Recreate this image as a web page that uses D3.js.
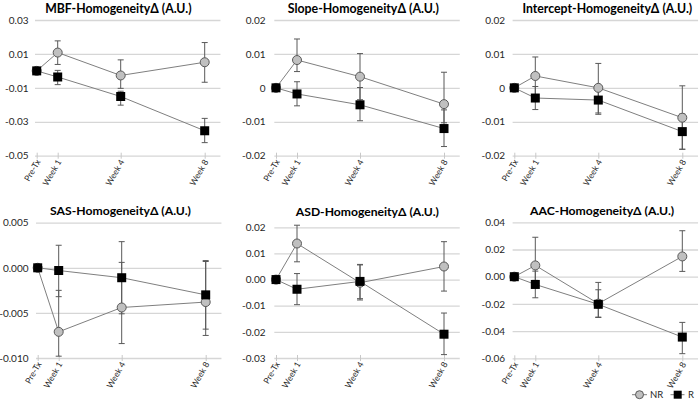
<!DOCTYPE html>
<html><head><meta charset="utf-8">
<script src="https://cdn.jsdelivr.net/npm/d3@7"></script>
<style>
html,body{margin:0;padding:0;background:#fff;}
svg{display:block;font-family:Lato,"Liberation Sans",sans-serif;}
</style></head>
<body><svg id="c" width="700" height="402"></svg>
<script>
// ---------- data ----------
const weeks = [0, 1, 4, 8];
const categories = ["Pre-Tx", "Week 1", "Week 4", "Week 8"];
const seriesNames = ["NR", "R"];

const titles = ["MBF-HomogeneityΔ (A.U.)", "Slope-HomogeneityΔ (A.U.)", "Intercept-HomogeneityΔ (A.U.)",
                "SAS-HomogeneityΔ (A.U.)", "ASD-HomogeneityΔ (A.U.)", "AAC-HomogeneityΔ (A.U.)"];

const mbfTicks = [0.03, 0.01, -0.01, -0.03, -0.05];
const mbfTickLabels = ["0.03", "0.01", "-0.01", "-0.03", "-0.05"];
const slopeTicks = [0.02, 0.01, 0, -0.01, -0.02];
const slopeTickLabels = ["0.02", "0.01", "0", "-0.01", "-0.02"];
const interceptTicks = [0.02, 0.01, 0, -0.01, -0.02];
const interceptTickLabels = ["0.02", "0.01", "0", "-0.01", "-0.02"];
const sasTicks = [0.005, 0, -0.005, -0.010];
const sasTickLabels = ["0.005", "0.000", "-0.005", "-0.010"];
const asdTicks = [0.02, 0.01, 0, -0.01, -0.02, -0.03];
const asdTickLabels = ["0.02", "0.01", "0.00", "-0.01", "-0.02", "-0.03"];
const aacTicks = [0.04, 0.02, 0, -0.02, -0.04, -0.06];
const aacTickLabels = ["0.04", "0.02", "0.00", "-0.02", "-0.04", "-0.06"];

// mean, upper error end, lower error end
const mbfNR   = [0, 0.0108, -0.0027, 0.0051];
const mbfNRHi = [0, 0.0177, 0.0065, 0.0167];
const mbfNRLo = [0, 0.0038, -0.0103, -0.0067];
const mbfR    = [0, -0.0036, -0.0151, -0.0353];
const mbfRHi  = [0, 0.0003, -0.0120, -0.0280];
const mbfRLo  = [0, -0.0081, -0.0202, -0.0423];

const slopeNR   = [0, 0.0082, 0.0033, -0.0048];
const slopeNRHi = [0, 0.0144, 0.0101, 0.0046];
const slopeNRLo = [0, 0.0048, -0.0035, -0.0103];
const slopeR    = [0, -0.0018, -0.0050, -0.0120];
const slopeRHi  = [0, 0.0018, 0.0001, -0.0065];
const slopeRLo  = [0, -0.0053, -0.0097, -0.0173];

const interceptNR   = [0, 0.0035, 0.0000, -0.0088];
const interceptNRHi = [0, 0.0091, 0.0072, 0.0006];
const interceptNRLo = [0, -0.0021, -0.0074, -0.0181];
const interceptR    = [0, -0.0030, -0.0036, -0.0129];
const interceptRHi  = [0, 0.0004, 0.0006, -0.0077];
const interceptRLo  = [0, -0.0064, -0.0078, -0.0181];

const sasNR   = [0, -0.0071, -0.0044, -0.0038];
const sasNRHi = [0, -0.0025, 0.0006, 0.0007];
const sasNRLo = [0, -0.0098, -0.0084, -0.0075];
const sasR    = [0, -0.0003, -0.0011, -0.0030];
const sasRHi  = [0, 0.0025, 0.0029, 0.0008];
const sasRLo  = [0, -0.0032, -0.0051, -0.0068];

const asdNR   = [0, 0.0138, -0.0012, 0.0050];
const asdNRHi = [0, 0.0208, 0.0056, 0.0145];
const asdNRLo = [0, 0.0068, -0.0078, -0.0044];
const asdR    = [0, -0.0037, -0.0007, -0.0209];
const asdRHi  = [0, 0.0023, 0.0058, -0.0128];
const asdRLo  = [0, -0.0096, -0.0073, -0.0287];

const aacNR   = [0, 0.0083, -0.0198, 0.0149];
const aacNRHi = [0, 0.0290, -0.0042, 0.0338];
const aacNRLo = [0, -0.0027, -0.0300, 0.0039];
const aacR    = [0, -0.0057, -0.0203, -0.0444];
const aacRHi  = [0, 0.0041, -0.0096, -0.0336];
const aacRLo  = [0, -0.0155, -0.0297, -0.0566];

// ---------- layout ----------
const panels = [
  {title: titles[0], ticks: mbfTicks, labels: mbfTickLabels,
   nr: [mbfNR, mbfNRHi, mbfNRLo], r: [mbfR, mbfRHi, mbfRLo],
   x0: 36.7, yTop: 20, yBot: 155.7, labelX: 28.5, tx0: 45, tx1: 191.7, titleY: 13},
  {title: titles[1], ticks: slopeTicks, labels: slopeTickLabels,
   nr: [slopeNR, slopeNRHi, slopeNRLo], r: [slopeR, slopeRHi, slopeRLo],
   x0: 276, yTop: 20, yBot: 155.7, labelX: 265.5, tx0: 287.7, tx1: 439, titleY: 13},
  {title: titles[2], ticks: interceptTicks, labels: interceptTickLabels,
   nr: [interceptNR, interceptNRHi, interceptNRLo], r: [interceptR, interceptRHi, interceptRLo],
   x0: 514.3, yTop: 20, yBot: 155.7, labelX: 505, tx0: 522.3, tx1: 692.3, titleY: 13},
  {title: titles[3], ticks: sasTicks, labels: sasTickLabels,
   nr: [sasNR, sasNRHi, sasNRLo], r: [sasR, sasRHi, sasRLo],
   x0: 37.7, yTop: 222.7, yBot: 358, labelX: 28.5, tx0: 50, tx1: 191, titleY: 215},
  {title: titles[4], ticks: asdTicks, labels: asdTickLabels,
   nr: [asdNR, asdNRHi, asdNRLo], r: [asdR, asdRHi, asdRLo],
   x0: 276, yTop: 227.3, yBot: 358, labelX: 265.5, tx0: 295.7, tx1: 439, titleY: 216},
  {title: titles[5], ticks: aacTicks, labels: aacTickLabels,
   nr: [aacNR, aacNRHi, aacNRLo], r: [aacR, aacRHi, aacRLo],
   x0: 514.3, yTop: 222.3, yBot: 358.3, labelX: 505, tx0: 530, tx1: 674.3, titleY: 215}
];

const svg = d3.select("#c");
const gridColor = "#d6d6d6";
const lineColor = "#7f7f7f";
const errColor = "#595959";
const weekPx = 21;
const FONT = "Lato, 'Liberation Sans', sans-serif";

panels.forEach(p => {
  const g = svg.append("g");
  const x = d3.scaleLinear().domain([0, 8]).range([p.x0, p.x0 + 8 * weekPx]);
  const y = d3.scaleLinear().domain([d3.min(p.ticks), d3.max(p.ticks)]).range([p.yBot, p.yTop]);
  const gl = x(-0.08), gr = x(8.75);

  // gridlines
  const grid = g.append("g").attr("transform", `translate(${gr},0)`)
    .call(d3.axisLeft(y).tickValues(p.ticks).tickSize(gr - gl).tickFormat(""));
  grid.select(".domain").remove();
  grid.selectAll("line").attr("stroke", gridColor).attr("stroke-width", 1.3);

  // y labels
  const ya = g.append("g").attr("transform", `translate(${p.labelX},0)`)
    .call(d3.axisLeft(y).tickValues(p.ticks).tickSize(0).tickPadding(0)
      .tickFormat((d, i) => p.labels[i]));
  ya.select(".domain").remove();
  ya.selectAll("text").attr("font-size", 10).attr("fill", "#262626").attr("font-family", FONT);

  // x axis
  const xa = g.append("g").attr("transform", `translate(0,${p.yBot})`)
    .call(d3.axisBottom(x).tickValues(weeks).tickSize(3).tickFormat((d, i) => categories[i]));
  xa.select(".domain").remove();
  xa.selectAll(".tick line").attr("y1", -3).attr("y2", 3).attr("stroke", "#c8c8c8").attr("stroke-width", 1);
  xa.selectAll(".tick text")
    .attr("font-size", 8.5).attr("fill", "#262626").attr("font-family", FONT)
    .attr("text-anchor", "end").attr("y", 0).attr("dy", "0.35em")
    .attr("transform", "translate(1,4.5) rotate(-60)");

  // title, fitted to the reference width
  const t = g.append("text").attr("x", (p.tx0 + p.tx1) / 2).attr("y", p.titleY).attr("text-anchor", "middle")
    .attr("font-size", 13).attr("font-weight", "bold").attr("fill", "#000").attr("font-family", FONT)
    .text(p.title);
  const w = t.node().getComputedTextLength();
  t.attr("font-size", Math.min(14, 13 * (p.tx1 - p.tx0) / w));

  const line = d3.line().x((d, i) => x(weeks[i])).y(d => y(d));

  [p.nr, p.r].forEach(s => {
    weeks.forEach((wk, i) => {
      if (s[1][i] === s[2][i]) return;
      const eg = g.append("g").attr("stroke", errColor).attr("stroke-width", 1);
      eg.append("line").attr("x1", x(wk)).attr("x2", x(wk)).attr("y1", y(s[1][i])).attr("y2", y(s[2][i]));
      eg.append("line").attr("x1", x(wk) - 3).attr("x2", x(wk) + 3).attr("y1", y(s[1][i])).attr("y2", y(s[1][i]));
      eg.append("line").attr("x1", x(wk) - 3).attr("x2", x(wk) + 3).attr("y1", y(s[2][i])).attr("y2", y(s[2][i]));
    });
  });
  [p.nr, p.r].forEach((s, si) => {
    g.append("path").datum(s[0]).attr("d", line).attr("fill", "none")
      .attr("stroke", lineColor).attr("stroke-width", 1);
    if (si === 0) {
      g.selectAll(null).data(s[0]).enter().append("circle")
        .attr("cx", (d, i) => x(weeks[i])).attr("cy", d => y(d)).attr("r", 4.5)
        .attr("fill", "#c0c0c0").attr("stroke", "#595959").attr("stroke-width", 1);
    } else {
      g.selectAll(null).data(s[0]).enter().append("rect")
        .attr("x", (d, i) => x(weeks[i]) - 4.5).attr("y", d => y(d) - 4.5)
        .attr("width", 9).attr("height", 9).attr("fill", "#000");
    }
  });
});

// legend
const lg = svg.append("g").attr("font-family", FONT).attr("font-size", 9.5);
const ly = 394.7;
lg.append("line").attr("x1", 632).attr("x2", 647).attr("y1", ly).attr("y2", ly).attr("stroke", lineColor);
lg.append("circle").attr("cx", 639.5).attr("cy", ly).attr("r", 4).attr("fill", "#c0c0c0").attr("stroke", "#595959");
lg.append("text").attr("x", 650).attr("y", ly).attr("dy", "0.35em").attr("fill", "#262626").text(seriesNames[0]);
lg.append("line").attr("x1", 670.5).attr("x2", 684.5).attr("y1", ly).attr("y2", ly).attr("stroke", lineColor);
lg.append("rect").attr("x", 673.7).attr("y", ly - 4).attr("width", 8).attr("height", 8).attr("fill", "#000");
lg.append("text").attr("x", 688).attr("y", ly).attr("dy", "0.35em").attr("fill", "#262626").text(seriesNames[1]);
</script>
</body></html>
